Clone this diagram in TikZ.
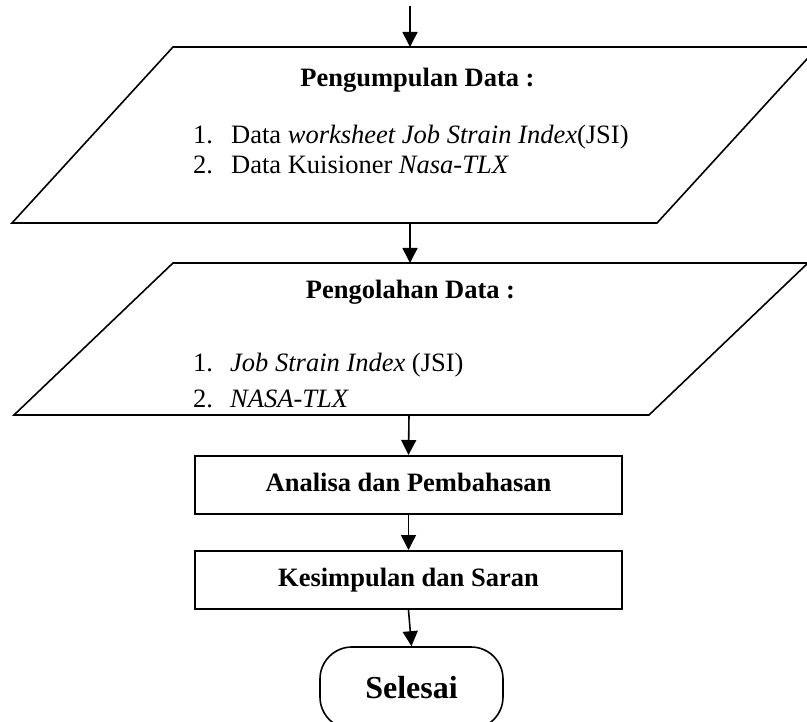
\documentclass[tikz,border=0pt]{standalone}
\usepackage{fontspec}
\setmainfont{Liberation Serif}
\usetikzlibrary{arrows.meta}
\begin{document}
\begin{tikzpicture}[x=1pt,y=-1pt,
  shapeline/.style={line width=1.6pt,line join=miter},
  boxnode/.style={draw,line width=2pt,minimum width=427pt,minimum height=58pt,inner sep=0pt,
    font=\fontsize{26.5}{30}\selectfont\bfseries,text height=18pt,text depth=6pt},
  termnode/.style={draw,line width=1.6pt,rounded corners=32pt,minimum width=183pt,minimum height=82pt,
    inner sep=0pt,font=\fontsize{32}{36}\selectfont\bfseries},
  flow/.style={line width=1.6pt,-{Triangle[length=15pt,width=15pt]}},
  titletext/.style={anchor=base,inner sep=0pt,font=\fontsize{26.5}{30}\selectfont\bfseries},
  itemtext/.style={anchor=base west,inner sep=0pt,font=\fontsize{26.5}{30}\selectfont}
]
\useasboundingbox (0,0) rectangle (807,722);
\clip (0,0) rectangle (807,722);

% parallelogram 1
\draw[shapeline] (173,47) -- (818,47) -- (657,223) -- (12,223) -- cycle;
\node[titletext] (t1) at (417.5,87) {Pengumpulan Data :};
\node[itemtext] (n11) at (193,144) {1.};
\node[itemtext] (i11) at (231,144) {Data \textit{worksheet Job Strain Index}(JSI)};
\node[itemtext] (n12) at (193,174) {2.};
\node[itemtext] (i12) at (231,174) {Data Kuisioner \textit{Nasa-TLX}};

% parallelogram 2
\draw[shapeline] (173,263) -- (808,263) -- (649,415) -- (14,415) -- cycle;
\node[titletext] (t2) at (410.5,299) {Pengolahan Data :};
\node[itemtext] (n21) at (193,372) {1.};
\node[itemtext] (i21) at (230,372) {\textit{Job Strain Index} (JSI)};
\node[itemtext] (n22) at (193,407) {2.};
\node[itemtext] (i22) at (230,407) {\textit{NASA-TLX}};

% anchor points
\coordinate (start) at (410,6);
\coordinate (p1t) at (410,47);
\coordinate (p1b) at (410,223);
\coordinate (p2t) at (410,263);
\coordinate (p2b) at (409,415);

% boxes
\node[boxnode] (ana) at (408.5,485) {Analisa dan Pembahasan};
\node[boxnode] (kes) at (408.5,580) {Kesimpulan dan Saran};
\node[termnode] (sel) at (411.5,688) {Selesai};

% connectors
\draw[flow] (start) -- (p1t);
\draw[flow] (p1b) -- (p2t);
\draw[flow] (p2b) -- (ana.north);
\draw[flow] (ana.south) -- (kes.north);
\draw[flow] (kes.south) -- (sel.north);
\end{tikzpicture}
\end{document}
